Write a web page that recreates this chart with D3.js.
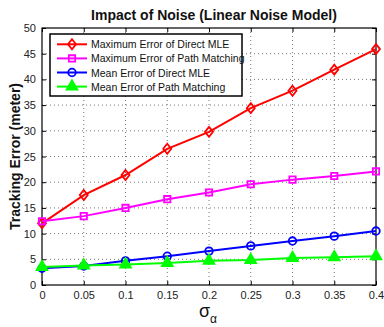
<!DOCTYPE html>
<html><head><meta charset="utf-8">
<script src="https://cdn.jsdelivr.net/npm/d3@7"></script>
<style>body{margin:0;background:#fff}svg{display:block}</style>
</head><body>
<script>
const sigma = [0, 0.05, 0.1, 0.15, 0.2, 0.25, 0.3, 0.35, 0.4];
const xTickLabels = ["0","0.05","0.1","0.15","0.2","0.25","0.3","0.35","0.4"];
const yTicks = [0,5,10,15,20,25,30,35,40,45,50];
const seriesNames = ["Maximum Error of Direct MLE","Maximum Error of Path Matching","Mean Error of Direct MLE","Mean Error of Path Matching"];
const maxMLE = [12.0, 17.5, 21.4, 26.5, 29.8, 34.4, 37.8, 41.9, 45.9];
const maxPM  = [12.4, 13.4, 15.0, 16.7, 18.0, 19.6, 20.5, 21.2, 22.1];
const meanMLE = [3.25, 3.7, 4.7, 5.6, 6.6, 7.6, 8.55, 9.5, 10.5];
const meanPM  = [3.5, 3.8, 4.0, 4.3, 4.7, 4.85, 5.25, 5.4, 5.6];
const colors = ["#ff0000","#ff00ff","#0000ff","#00ff00"];
const markers = ["diamond","square","circle","triangle"];
const series = [maxMLE, maxPM, meanMLE, meanPM];

const W=384,H=327, L=42, R=376, T=28, B=285;
const svg = d3.select("body").append("svg").attr("width",W).attr("height",H)
  .style("font-family","Liberation Sans, Arial, sans-serif");
const x = d3.scaleLinear().domain([0,0.4]).range([L,R]);
const y = d3.scaleLinear().domain([0,50]).range([B,T]);

// grid
const g = svg.append("g");
g.selectAll(".gx").data(sigma.slice(1,-1)).enter().append("line")
  .attr("x1",d=>x(d)).attr("x2",d=>x(d)).attr("y1",T).attr("y2",B)
  .attr("stroke","#555").attr("stroke-width",0.8).attr("stroke-dasharray","1,3");
g.selectAll(".gy").data(yTicks.slice(1,-1)).enter().append("line")
  .attr("y1",d=>y(d)).attr("y2",d=>y(d)).attr("x1",L).attr("x2",R)
  .attr("stroke","#555").attr("stroke-width",0.8).attr("stroke-dasharray","1,3");

// axes
const xa = svg.append("g").attr("transform",`translate(0,${B})`)
  .call(d3.axisBottom(x).tickValues(sigma).tickFormat((d,i)=>xTickLabels[i]).tickSizeInner(-4).tickSizeOuter(0).tickPadding(6));
const xt = svg.append("g").attr("transform",`translate(0,${T})`)
  .call(d3.axisTop(x).tickValues(sigma).tickFormat("").tickSizeInner(-4).tickSizeOuter(0));
const ya = svg.append("g").attr("transform",`translate(${L},0)`)
  .call(d3.axisLeft(y).tickValues(yTicks).tickSizeInner(-4).tickSizeOuter(0).tickPadding(6));
const yr = svg.append("g").attr("transform",`translate(${R},0)`)
  .call(d3.axisRight(y).tickValues(yTicks).tickFormat("").tickSizeInner(-4).tickSizeOuter(0));
[xa,xt,ya,yr].forEach(a=>{
  a.select(".domain").remove();
  a.selectAll("line").attr("stroke","#000");
  a.selectAll("text").attr("font-size",11).attr("fill","#222").attr("font-family","Liberation Sans, Arial, sans-serif");
});
svg.append("rect").attr("x",L).attr("y",T).attr("width",R-L).attr("height",B-T)
  .attr("fill","none").attr("stroke","#000").attr("stroke-width",1.2);

function markerPath(type){
  if(type==="diamond") return "M0,-5L4,0L0,5L-4,0Z";
  const s = {square: d3.symbolSquare, circle: d3.symbolCircle, triangle: d3.symbolTriangle}[type];
  const size = {square: 40, circle: 45, triangle: 50}[type];
  return d3.symbol().type(s).size(size)();
}

const line = d3.line().x((d,i)=>x(sigma[i])).y(d=>y(d));
series.forEach((vals,k)=>{
  svg.append("path").datum(vals).attr("d",line).attr("fill","none")
    .attr("stroke",colors[k]).attr("stroke-width",2);
  svg.selectAll(null).data(vals).enter().append("path")
    .attr("d",markerPath(markers[k]))
    .attr("transform",(d,i)=>`translate(${x(sigma[i])},${y(d)})`)
    .attr("fill",markers[k]==="triangle"?colors[k]:"none")
    .attr("stroke",colors[k]).attr("stroke-width",1.8);
});

// legend
const lg = svg.append("g");
lg.append("rect").attr("x",50).attr("y",34).attr("width",192).attr("height",62)
  .attr("fill","#fff").attr("stroke","#000").attr("stroke-width",1.5);
seriesNames.forEach((n,k)=>{
  const yy = 44.3 + k*14.1;
  lg.append("line").attr("x1",57).attr("x2",87).attr("y1",yy).attr("y2",yy)
    .attr("stroke",colors[k]).attr("stroke-width",2);
  lg.append("path").attr("d",markerPath(markers[k])).attr("transform",`translate(72,${yy})`)
    .attr("fill",markers[k]==="triangle"?colors[k]:"none").attr("stroke",colors[k]).attr("stroke-width",1.8);
  lg.append("text").attr("x",91).attr("y",yy+4).attr("font-size",10.5).attr("fill","#111").text(n);
});

// title
svg.append("text").attr("x",214).attr("y",20).attr("text-anchor","middle")
  .attr("font-size",14).attr("font-weight","bold").attr("fill","#111")
  .text("Impact of Noise (Linear Noise Model)");
// y label
svg.append("text").attr("transform",`translate(20,${(T+B)/2}) rotate(-90)`).attr("text-anchor","middle")
  .attr("font-size",14).attr("font-weight","bold").attr("fill","#111")
  .text("Tracking Error (meter)");
// x label
const xl = svg.append("text").attr("x",199).attr("y",317).attr("fill","#111");
xl.append("tspan").attr("font-size",18).text("σ");
xl.append("tspan").attr("font-size",12).attr("dy",6).text("α");
</script>
</body></html>
